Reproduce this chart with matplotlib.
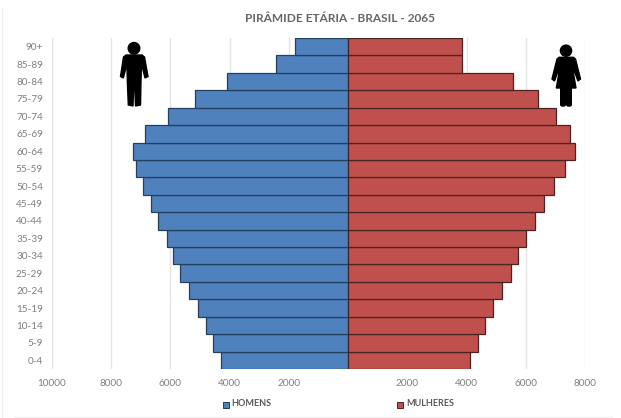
import matplotlib.pyplot as plt
from matplotlib.patches import Circle, Polygon, Rectangle, FancyBboxPatch

plt.rcParams['font.family'] = ['Lato', 'DejaVu Sans']

faixas = ['0-4', '5-9', '10-14', '15-19', '20-24', '25-29', '30-34', '35-39', '40-44', '45-49',
          '50-54', '55-59', '60-64', '65-69', '70-74', '75-79', '80-84', '85-89', '90+']
homens = [4280, 4550, 4808, 5068, 5382, 5665, 5900, 6125, 6409, 6666,
          6926, 7162, 7274, 6858, 6091, 5180, 4077, 2443, 1790]
mulheres = [4122, 4380, 4617, 4887, 5203, 5495, 5743, 6002, 6306, 6610,
            6948, 7331, 7669, 7489, 7005, 6396, 5552, 3840, 3862]
ticks = [-10000, -8000, -6000, -4000, -2000, 2000, 4000, 6000, 8000]

W, H = 621, 418
cinza = '#7f7f7f'

fig = plt.figure(figsize=(W / 100, H / 100), dpi=100)
ax = fig.add_axes([52 / W, 1 - 369 / H, (585 - 52) / W, (369 - 38) / H])

pos = range(len(faixas))
ax.barh(pos, [-v for v in homens], height=1.0, color='#4f81bd', edgecolor='#243f60', linewidth=0.9, zorder=3)
ax.barh(pos, mulheres, height=1.0, color='#c0504d', edgecolor='#4a2322', linewidth=0.9, zorder=3)

ax.set_xlim(-10000, 8000)
ax.set_ylim(-0.5, len(faixas) - 0.5)
ax.set_xticks(ticks)
ax.set_xticklabels([str(abs(t)) for t in ticks])
ax.set_yticks(list(pos))
ax.set_yticklabels(faixas)
ax.tick_params(length=0, labelsize=7.2, labelcolor=cinza)
ax.tick_params(axis='x', pad=7)
ax.tick_params(axis='y', pad=6.5)
ax.grid(axis='x', color='#e4e4e4', linewidth=1.0, zorder=0)
for s in ax.spines.values():
    s.set_visible(False)

fig.text(340 / W, 1 - 19 / H, 'PIRÂMIDE ETÁRIA - BRASIL - 2065', ha='center', va='center',
         fontsize=8.6, fontweight='bold', color='#666666')

# camada em pixels para legenda, bonecos e moldura
ov = fig.add_axes([0, 0, 1, 1], facecolor='none')
ov.set_xlim(0, W)
ov.set_ylim(H, 0)
ov.axis('off')

ov.add_patch(Rectangle((222.5, 401.5), 6, 6, facecolor='#4f81bd', edgecolor='#243f60', linewidth=0.7))
ov.text(231, 404, 'HOMENS', fontsize=6.5, fontweight='bold', color='#595959', va='center')
ov.add_patch(Rectangle((397, 401.5), 6, 6, facecolor='#c0504d', edgecolor='#4a2322', linewidth=0.7))
ov.text(406, 404, 'MULHERES', fontsize=6.5, fontweight='bold', color='#595959', va='center')

# homem
ov.add_patch(Circle((134, 48.3), 5.8, color='black'))
ov.add_patch(Polygon([(126, 55), (142, 55), (144.5, 57), (148, 76.5), (145, 78), (141.5, 64), (141, 80),
                      (140.5, 105), (135.5, 106), (134.6, 85), (133.6, 85), (133, 106), (128.3, 105),
                      (127.3, 80), (127, 64), (123.3, 78), (120.5, 76.5), (123.5, 57)], color='black'))
# mulher
ov.add_patch(Circle((566, 50.7), 5.6, color='black'))
ov.add_patch(Polygon([(559, 57.3), (573.5, 57.3), (575.5, 59), (580.5, 79), (578, 81), (572, 65), (576, 88),
                      (556.3, 88), (560.3, 65), (554.5, 81), (552, 79), (557, 59)], color='black'))
ov.add_patch(FancyBboxPatch((560.7, 87), 4.6, 19, boxstyle='round,pad=0,rounding_size=1.5', color='black'))
ov.add_patch(FancyBboxPatch((566.7, 87), 4.6, 19, boxstyle='round,pad=0,rounding_size=1.5', color='black'))

# moldura fraca do recorte
ov.plot([1.5, 1.5], [8, 418], color='#eeeeee', linewidth=1)
ov.plot([14, 612], [417, 417], color='#f2f2f2', linewidth=1)

fig.savefig('out.png', dpi=100)
